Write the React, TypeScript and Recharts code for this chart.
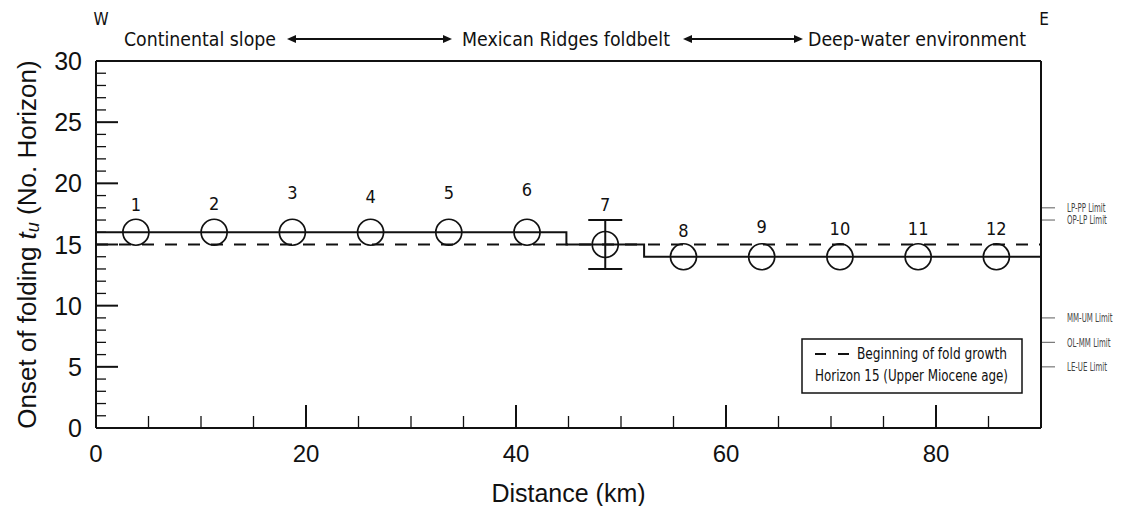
import React from 'react';
import {
  ComposedChart,
  XAxis,
  YAxis,
  Line,
  Scatter,
  ErrorBar,
  ReferenceLine,
} from 'recharts';

// Fold sites along the W–E section
const pointIds = ['1', '2', '3', '4', '5', '6', '7', '8', '9', '10', '11', '12'];
const distanceKm = [3.8, 11.25, 18.7, 26.15, 33.6, 41.05, 48.5, 55.95, 63.4, 70.85, 78.3, 85.75];
const onsetHorizon = [16, 16, 16, 16, 16, 16, 15, 14, 14, 14, 14, 14];
const onsetError = [null, null, null, null, null, null, 2, null, null, null, null, null];

// Interpreted onset of folding per domain (step line)
const stepEdgesKm = [0, 44.8, 52.2, 90];
const stepLevels = [16, 15, 14, 14];

// Beginning of fold growth
const foldGrowthHorizon = 15;

// Axis ticks
const xTickValues = [0, 5, 10, 15, 20, 25, 30, 35, 40, 45, 50, 55, 60, 65, 70, 75, 80, 85];
const yTickValues = Array.from({ length: 31 }, (_, i) => i);
const xMax = 90;
const yMax = 30;

// Stratigraphic limits on the right-hand edge
const limitHorizons = [18, 17, 9, 7, 5];
const limitNames = ['LP-PP Limit', 'OP-LP Limit', 'MM-UM Limit', 'OL-MM Limit', 'LE-UE Limit'];

// Vertical lift of each site number above its marker
const LABEL_RAISE = [28, 29, 40, 36, 40, 43, 40, 26, 30, 28, 28, 28];

const INK = '#111';
const AXIS_FONT = "'Liberation Sans', Arial, Helvetica, sans-serif";
const NOTE_FONT = "'Liberation Sans Narrow', 'DejaVu Sans Condensed', 'Open Sans', sans-serif";

const sites = distanceKm.map((x, i) => ({
  x,
  y: onsetHorizon[i],
  err: onsetError[i],
  id: pointIds[i],
}));

const steps = stepEdgesKm.map((x, i) => ({ x, y: stepLevels[i] }));

const limits = limitHorizons.map((y, i) => ({ x: xMax, y, name: limitNames[i] }));

const XTick = (props: any) => {
  const { x, y, payload } = props;
  const major = payload.value % 20 === 0;
  return (
    <g>
      <line x1={x} x2={x} y1={y} y2={y - (major ? 23 : 12)} stroke={INK} strokeWidth={major ? 2 : 1.3} />
      {major && (
        <text x={x} y={y + 25} textAnchor="middle" dominantBaseline="central" fontFamily={AXIS_FONT} fontSize={24} fill={INK}>
          {payload.value}
        </text>
      )}
    </g>
  );
};

const YTick = (props: any) => {
  const { x, y, payload } = props;
  const major = payload.value % 5 === 0;
  return (
    <g>
      <line x1={x} x2={x + (major ? 22 : 10)} y1={y} y2={y} stroke={INK} strokeWidth={major ? 2 : 1.3} />
      {major && (
        <text x={x - 14} y={y} textAnchor="end" dominantBaseline="central" fontFamily={AXIS_FONT} fontSize={25} fill={INK}>
          {payload.value}
        </text>
      )}
    </g>
  );
};

// Narrow grey caption beside a short outward tick on the right frame
const LimitMark = (props: any) => {
  const { cx, cy, payload } = props;
  return (
    <g>
      <line x1={cx + 1} x2={cx + 14} y1={cy} y2={cy} stroke="#777" strokeWidth={1.2} />
      <text
        transform={`translate(${cx + 26} ${cy}) scale(0.65 1)`}
        dominantBaseline="central"
        fontFamily={NOTE_FONT}
        fontSize={12}
        fill="#444"
      >
        {payload.name}
      </text>
    </g>
  );
};

const YTitle = (props: any) => {
  const { viewBox } = props;
  const cx = viewBox.x + 27;
  const cy = viewBox.y + viewBox.height / 2;
  return (
    <text x={cx} y={cy} transform={`rotate(-90 ${cx} ${cy})`} textAnchor="middle" dominantBaseline="central" fontFamily={AXIS_FONT} fontSize={26} fill={INK}>
      <tspan>Onset of folding </tspan>
      <tspan fontStyle="italic">t</tspan>
      <tspan fontStyle="italic" fontSize={18} dy={6}>u</tspan>
      <tspan dy={-6}> (No. Horizon)</tspan>
    </text>
  );
};

const XTitle = (props: any) => {
  const { viewBox } = props;
  const cx = viewBox.x + viewBox.width / 2;
  return (
    <text x={cx} y={493} textAnchor="middle" dominantBaseline="central" fontFamily={AXIS_FONT} fontSize={25} fill={INK}>
      Distance (km)
    </text>
  );
};

const SiteMarker = (props: any) => {
  const { cx, cy, payload } = props;
  const idx = Number(payload.id) - 1;
  return (
    <g>
      <circle cx={cx} cy={cy} r={13} fill="none" stroke={INK} strokeWidth={1.7} />
      <text x={cx} y={cy - LABEL_RAISE[idx]} textAnchor="middle" dominantBaseline="central" fontFamily={NOTE_FONT} fontSize={18} fill={INK}>
        {payload.id}
      </text>
    </g>
  );
};

const Arrow = ({ x1, x2, y }: { x1: number; x2: number; y: number }) => (
  <g>
    <line x1={x1 + 6} x2={x2 - 6} y1={y} y2={y} stroke={INK} strokeWidth={1.8} />
    <path d={`M${x1},${y} L${x1 + 9},${y - 4} L${x1 + 9},${y + 4} Z`} fill={INK} />
    <path d={`M${x2},${y} L${x2 - 9},${y - 4} L${x2 - 9},${y + 4} Z`} fill={INK} />
  </g>
);

export default function App() {
  return (
    <div style={{ position: 'absolute', left: 0, top: 0, width: 1127, height: 506, background: '#fff' }}>
      <ComposedChart
        width={1127}
        height={506}
        margin={{ top: 61, right: 86, bottom: 48, left: 0 }}
      >
        <XAxis
          type="number"
          dataKey="x"
          domain={[0, xMax]}
          ticks={xTickValues}
          interval={0}
          tickSize={0}
          tickMargin={0}
          tickLine={false}
          height={30}
          axisLine={{ stroke: INK, strokeWidth: 2 }}
          tick={<XTick />}
          label={{ content: <XTitle /> } as any}
        />
        <YAxis
          yAxisId="main"
          type="number"
          dataKey="y"
          domain={[0, yMax]}
          ticks={yTickValues}
          interval={0}
          width={96}
          tickSize={0}
          tickMargin={0}
          tickLine={false}
          axisLine={{ stroke: INK, strokeWidth: 2 }}
          tick={<YTick />}
          label={{ content: <YTitle /> } as any}
        />
        <ReferenceLine yAxisId="main" y={yMax} stroke={INK} strokeWidth={2} />
        <ReferenceLine yAxisId="main" x={xMax} stroke={INK} strokeWidth={2} />
        <ReferenceLine
          yAxisId="main"
          y={foldGrowthHorizon}
          stroke={INK}
          strokeWidth={2}
          strokeDasharray="12 11"
        />
        <Line
          yAxisId="main"
          data={steps}
          dataKey="y"
          type="stepAfter"
          stroke={INK}
          strokeWidth={2}
          dot={false}
          activeDot={false}
          isAnimationActive={false}
        />
        <Scatter
          yAxisId="main"
          data={sites}
          dataKey="y"
          shape={<SiteMarker />}
          isAnimationActive={false}
        >
          <ErrorBar dataKey="err" direction="y" width={17} stroke={INK} strokeWidth={2} />
        </Scatter>
        <Scatter
          yAxisId="main"
          data={limits}
          dataKey="y"
          shape={<LimitMark />}
          isAnimationActive={false}
        />
      </ComposedChart>

      <svg
        width={1127}
        height={506}
        style={{ position: 'absolute', left: 0, top: 0, pointerEvents: 'none' }}
      >
        <g fontFamily={NOTE_FONT} fill={INK}>
          <text x={101} y={19} textAnchor="middle" dominantBaseline="central" fontSize={17}>W</text>
          <text x={1044} y={19} textAnchor="middle" dominantBaseline="central" fontSize={17}>E</text>
          <text x={124} y={39} dominantBaseline="central" fontSize={19} textLength={152} lengthAdjust="spacingAndGlyphs">
            Continental slope
          </text>
          <Arrow x1={287} x2={452} y={39} />
          <text x={462} y={39} dominantBaseline="central" fontSize={19} textLength={208} lengthAdjust="spacingAndGlyphs">
            Mexican Ridges foldbelt
          </text>
          <Arrow x1={683} x2={803} y={39} />
          <text x={808} y={39} dominantBaseline="central" fontSize={19} textLength={218} lengthAdjust="spacingAndGlyphs">
            Deep-water environment
          </text>
        </g>
        <g>
          <rect x={802} y={339} width={220} height={54} fill="#fff" stroke={INK} strokeWidth={1.5} />
          <line x1={815} x2={826} y1={354} y2={354} stroke={INK} strokeWidth={2} />
          <line x1={838} x2={849} y1={354} y2={354} stroke={INK} strokeWidth={2} />
          <text x={857} y={354} dominantBaseline="central" fontFamily={NOTE_FONT} fontSize={15.5} fill={INK} textLength={150} lengthAdjust="spacingAndGlyphs">
            Beginning of fold growth
          </text>
          <text x={815} y={376} dominantBaseline="central" fontFamily={NOTE_FONT} fontSize={15.5} fill={INK} textLength={193} lengthAdjust="spacingAndGlyphs">
            Horizon 15 (Upper Miocene age)
          </text>
        </g>
      </svg>
    </div>
  );
}
